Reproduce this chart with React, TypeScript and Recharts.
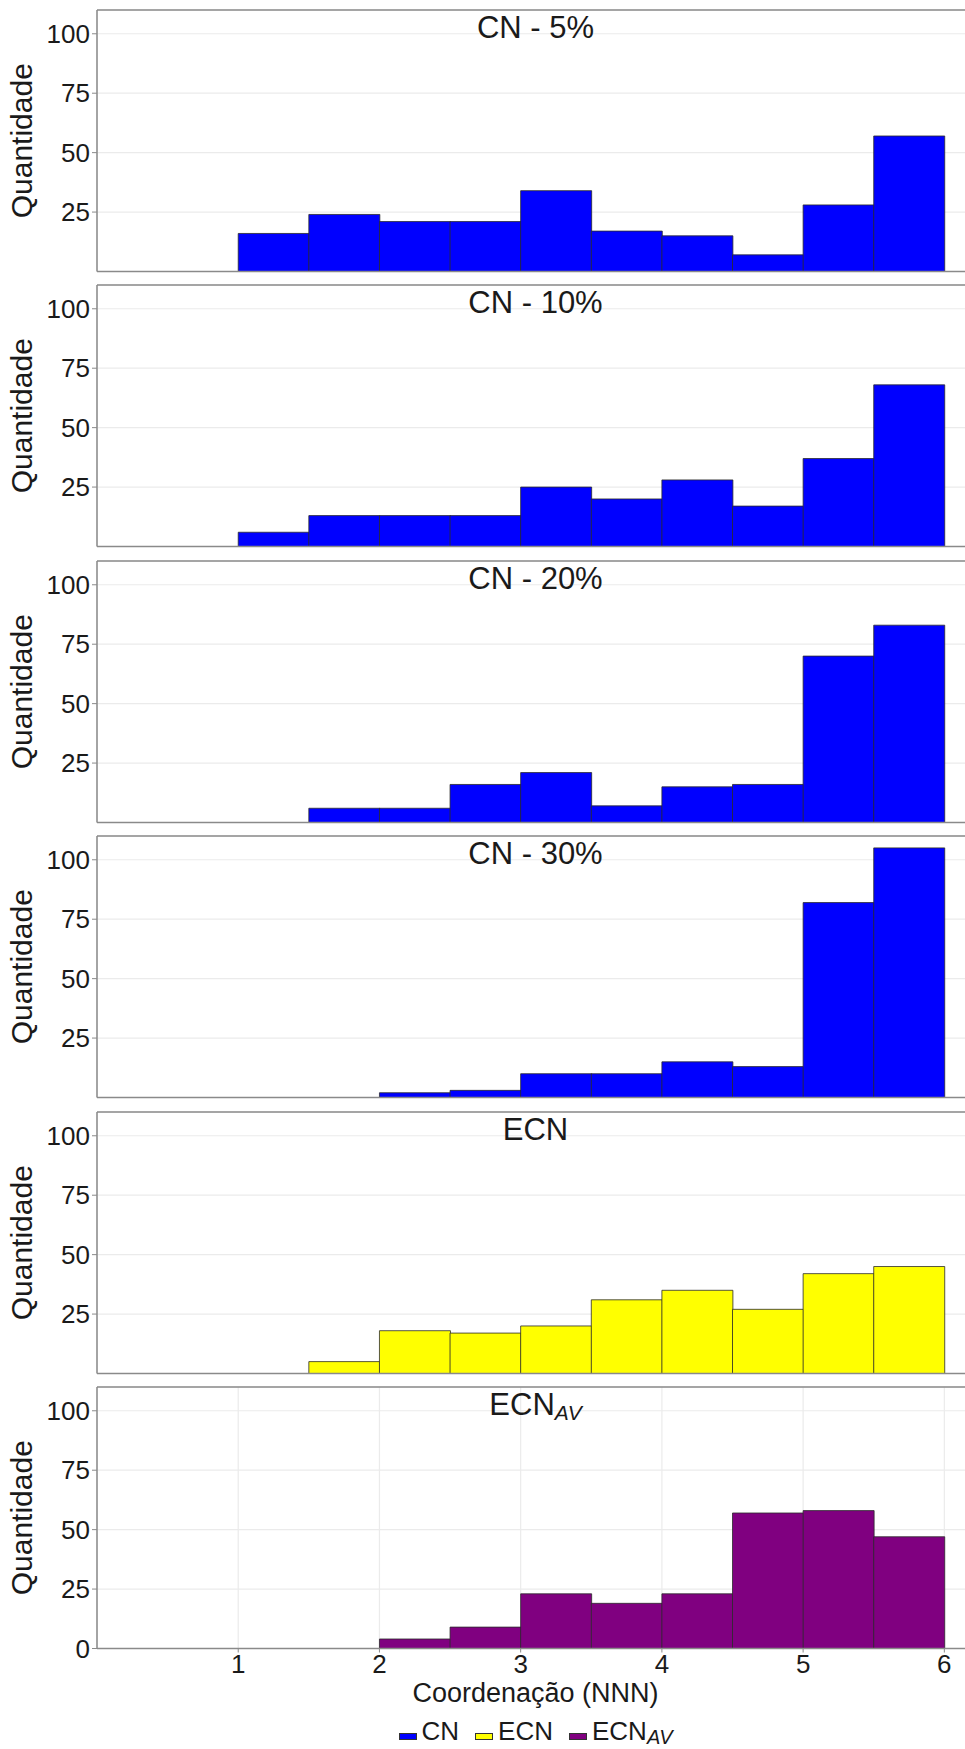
import React from "react";
import {
  Bar,
  BarChart,
  CartesianGrid,
  Label,
  Legend,
  ReferenceLine,
  XAxis,
  YAxis,
} from "recharts";

// bin centres (bins are 0.5 wide, from 1 to 6)
const binCenters = [1.25, 1.75, 2.25, 2.75, 3.25, 3.75, 4.25, 4.75, 5.25, 5.75];
const xTicks = [1, 2, 3, 4, 5, 6];
const yTicks = [25, 50, 75, 100];
const yTicksLast = [0, 25, 50, 75, 100];

const cn5 = [16, 24, 21, 21, 34, 17, 15, 7, 28, 57];
const cn10 = [6, 13, 13, 13, 25, 20, 28, 17, 37, 68];
const cn20 = [0, 6, 6, 16, 21, 7, 15, 16, 70, 83];
const cn30 = [0, 0, 2, 3, 10, 10, 15, 13, 82, 105];
const ecn = [0, 5, 18, 17, 20, 31, 35, 27, 42, 45];
const ecnAv = [0, 0, 4, 9, 23, 19, 23, 57, 58, 47];

const panelTitles = ["CN - 5%", "CN - 10%", "CN - 20%", "CN - 30%", "ECN", "ECN"];
const panelSubs = ["", "", "", "", "", "AV"];
const panelValues = [cn5, cn10, cn20, cn30, ecn, ecnAv];
const panelSeries = [0, 0, 0, 0, 1, 2];

const seriesNames = ["CN", "ECN", "ECN"];
const seriesSubs = ["", "", "AV"];
const seriesColors = ["#0000ff", "#ffff00", "#800080"];

const FONT = "'Liberation Sans', Arial, sans-serif";
const TEXT = "#1a1a1a";
const FRAME = "#8a8a8a";
const GRID = "#ebebeb";

const CHART_W = 974;
const PANEL_STEP = 275.4;
const FIRST_TOP = 10;
const PLOT_H = 261.5;
const PAD_TOP = 4;

function PanelTitle({ viewBox, title, sub }: any) {
  const cx = viewBox.x + viewBox.width / 2;
  const y = viewBox.y + 28;
  return (
    <text x={cx} y={y} textAnchor="middle" fontSize={31} fill={TEXT} fontFamily={FONT}>
      <tspan>{title}</tspan>
      {sub ? (
        <tspan dy={5} fontSize={21} fontStyle="italic">
          {sub}
        </tspan>
      ) : null}
    </text>
  );
}

function YTitle({ viewBox }: any) {
  const cx = 32;
  const cy = viewBox.y + viewBox.height / 2;
  return (
    <text
      x={cx}
      y={cy}
      textAnchor="middle"
      fontSize={30}
      fill={TEXT}
      fontFamily={FONT}
      transform={`rotate(-90, ${cx}, ${cy})`}
    >
      Quantidade
    </text>
  );
}

function XTitle({ viewBox }: any) {
  return (
    <text
      x={viewBox.x + viewBox.width / 2}
      y={viewBox.y + 53}
      textAnchor="middle"
      fontSize={27}
      fill={TEXT}
      fontFamily={FONT}
    >
      Coordenação (NNN)
    </text>
  );
}

function LegendRow() {
  return (
    <div
      style={{
        display: "flex",
        justifyContent: "center",
        alignItems: "baseline",
        fontFamily: FONT,
        fontSize: 26,
        color: TEXT,
        lineHeight: "30px",
      }}
    >
      {seriesNames.map((name, i) => (
        <span key={i} style={{ display: "inline-flex", alignItems: "baseline", marginRight: i < 2 ? 16 : 0 }}>
          <span
            style={{
              display: "inline-block",
              width: 16,
              height: 5,
              background: seriesColors[i],
              border: "1px solid #333",
              marginRight: 5,
            }}
          />
          <span>
            {name}
            {seriesSubs[i] ? (
              <span style={{ fontSize: 20, fontStyle: "italic", position: "relative", top: 4 }}>
                {seriesSubs[i]}
              </span>
            ) : null}
          </span>
        </span>
      ))}
    </div>
  );
}

function Panel({ index }: { index: number }) {
  const last = index === panelValues.length - 1;
  const values = panelValues[index];
  const color = seriesColors[panelSeries[index]];
  const data = binCenters.map((x, i) => ({ x, v: values[i] }));
  const xAxisH = last ? 60 : 8;
  const bottom = last ? 40.5 : 0;
  const height = PAD_TOP + PLOT_H + xAxisH + bottom;
  const top = FIRST_TOP + PANEL_STEP * index - PAD_TOP;

  return (
    <div style={{ position: "absolute", left: 0, top }}>
      <BarChart
        width={CHART_W}
        height={height}
        data={data}
        margin={{ top: PAD_TOP, right: 0, bottom, left: 0 }}
        barCategoryGap={0}
        barGap={0}
      >
        <CartesianGrid stroke={GRID} strokeWidth={1.2} />
        <XAxis
          dataKey="x"
          type="number"
          domain={[0, 6.21]}
          ticks={xTicks}
          interval={0}
          allowDataOverflow
          height={xAxisH}
          tickSize={4}
          tickMargin={2}
          tick={last ? { fontSize: 26, fill: TEXT, fontFamily: FONT } : false}
          tickLine={{ stroke: FRAME }}
          axisLine={{ stroke: FRAME, strokeWidth: 1.5 }}
        >
          {last ? <Label content={<XTitle />} /> : null}
        </XAxis>
        <YAxis
          type="number"
          domain={[0, 110]}
          ticks={last ? yTicksLast : yTicks}
          interval={0}
          allowDataOverflow
          width={97}
          tickSize={5}
          tickMargin={2}
          tick={{ fontSize: 26, fill: TEXT, fontFamily: FONT }}
          tickLine={{ stroke: FRAME }}
          axisLine={{ stroke: FRAME, strokeWidth: 1.5 }}
        >
          <Label content={<YTitle />} />
        </YAxis>
        <ReferenceLine
          y={110}
          stroke={FRAME}
          strokeWidth={1.5}
          label={<PanelTitle title={panelTitles[index]} sub={panelSubs[index]} />}
        />
        <Bar dataKey="v" fill={color} stroke="#2b2b2b" strokeWidth={0.8} isAnimationActive={false} />
        {last ? (
          <Legend
            layout="horizontal"
            verticalAlign="middle"
            align="center"
            wrapperStyle={{ top: 333, left: 97, width: 877, height: 30 }}
            content={() => <LegendRow />}
          />
        ) : null}
      </BarChart>
    </div>
  );
}

export default function App() {
  return (
    <div
      style={{
        position: "absolute",
        left: 0,
        top: 0,
        width: 965,
        height: 1749,
        overflow: "hidden",
        background: "#fff",
        fontFamily: FONT,
      }}
    >
      {panelValues.map((_, i) => (
        <Panel key={i} index={i} />
      ))}
    </div>
  );
}
